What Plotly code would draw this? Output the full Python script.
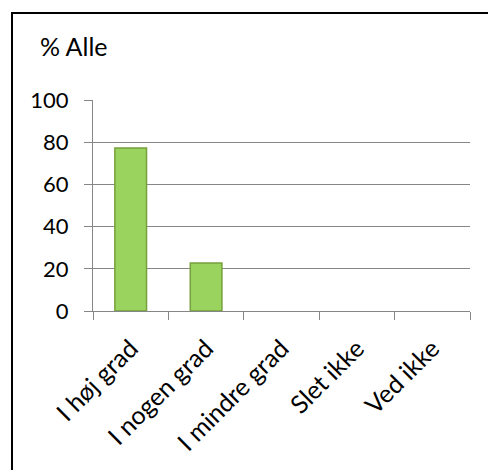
import plotly.graph_objects as go

categories = ["I høj grad", "I nogen grad", "I mindre grad", "Slet ikke", "Ved ikke"]
values = [77.3, 22.7, None, None, None]
y_ticks = [0, 20, 40, 60, 80, 100]
title_text = "% Alle"

W, H = 488, 470
ml, mr, mt, mb = 93, 18, 100, 159
pw = W - ml - mr
ph = H - mt - mb

def px_x(x):
    return (x - ml) / pw

def px_y(y):
    return (H - mb - y) / ph

FONT = "Lato, 'Open Sans', sans-serif"
GRID = "#868686"

fig = go.Figure(go.Bar(
    x=categories, y=values,
    marker=dict(color="#9BD35F", line=dict(color="#76A03C", width=1.5)),
    width=0.42,
))

border = dict(color="black", width=2)

fig.update_layout(
    width=W, height=H,
    margin=dict(l=ml, r=mr, t=mt, b=mb),
    paper_bgcolor="white", plot_bgcolor="white",
    showlegend=False,
    font=dict(family=FONT, size=21, color="black"),
    xaxis=dict(
        type="category", range=[-0.5, 4.5],
        showline=True, linecolor=GRID, linewidth=1,
        ticks="outside", tickson="boundaries", ticklen=8, tickcolor=GRID,
        tickangle=-45, showgrid=False,
        ticklabelstandoff=12,
        tickfont=dict(size=25),
    ),
    yaxis=dict(
        range=[0, 100], tickvals=y_ticks,
        showline=True, linecolor=GRID, linewidth=1,
        showgrid=True, gridcolor=GRID, gridwidth=1,
        ticks="outside", ticklen=8, tickcolor=GRID,
        ticklabelstandoff=11,
        zeroline=False,
        tickfont=dict(size=22),
    ),
    annotations=[dict(
        text=title_text, xref="paper", yref="paper",
        x=px_x(38), y=px_y(46), xanchor="left", yanchor="middle",
        showarrow=False, font=dict(size=25),
    )],
    shapes=[
        dict(type="rect", xref="paper", yref="paper",
             x0=px_x(W - 6), x1=px_x(W + 4), y0=px_y(H + 4), y1=px_y(16),
             fillcolor="white", line=dict(width=0), layer="above"),
        dict(type="line", xref="paper", yref="paper",
             x0=px_x(11), x1=px_x(W + 2), y0=px_y(13), y1=px_y(13), line=border),
        dict(type="line", xref="paper", yref="paper",
             x0=px_x(12), x1=px_x(12), y0=px_y(12), y1=px_y(H + 2), line=border),
    ],
)

fig.write_html(
    "out.html",
    config={"displayModeBar": False},
    post_script=(
        "document.documentElement.style.margin='0';"
        "document.documentElement.style.overflow='hidden';"
        "document.body.style.margin='0';"
        "document.body.style.overflow='hidden';"
    ),
)
